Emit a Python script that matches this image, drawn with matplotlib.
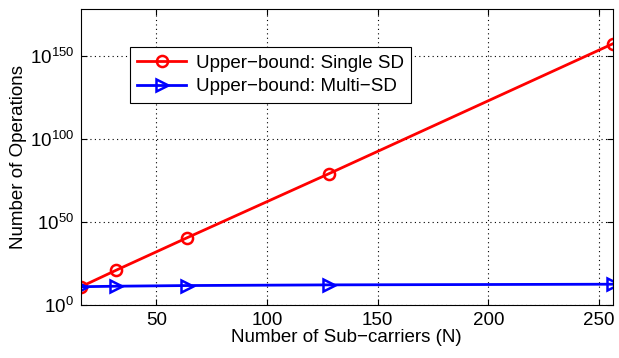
import matplotlib.pyplot as plt
import numpy as np

plt.rcParams['font.family'] = ['Liberation Sans', 'DejaVu Sans']
plt.rcParams['mathtext.fontset'] = 'custom'
plt.rcParams['mathtext.rm'] = 'Liberation Sans'
plt.rcParams['mathtext.it'] = 'Liberation Sans'

# data (exponents)
n_sub = [16, 32, 64, 128, 256]
single_sd_exp = [11, 21, 40.5, 79, 157]
multi_sd_exp = [11, 11.3, 11.7, 12.1, 12.5]

single_sd = [10.0 ** e for e in single_sd_exp]
multi_sd = [10.0 ** e for e in multi_sd_exp]

fig = plt.figure(figsize=(6.19, 3.58), dpi=100)
ax = fig.add_axes([81 / 619, 1 - 305 / 358, (612.5 - 81) / 619, (305 - 9) / 358])

ax.semilogy(n_sub, single_sd, color='red', lw=2, marker='o', ms=8, mfc='none',
            mew=1.8, label='Upper\u2212bound: Single SD')
ax.semilogy(n_sub, multi_sd, color='blue', lw=2, marker='>', ms=9, mfc='none',
            mew=1.8, label='Upper\u2212bound: Multi\u2212SD')

ax.set_xlim(16, 256)
ax.set_ylim(1, 1e178)
ax.set_xticks([50, 100, 150, 200, 250])
ax.set_yticks([1e0, 1e50, 1e100, 1e150])
ax.set_yticklabels([r'$10^{0}$', r'$10^{50}$', r'$10^{100}$', r'$10^{150}$'])
ax.minorticks_off()
ax.tick_params(direction='in', labelsize=13.5, top=True, right=True, length=4, pad=5)
ax.grid(True, ls=(0, (1, 3)), color='black', lw=0.8)
for s in ax.spines.values():
    s.set_linewidth(0.8)

ax.set_xlabel('Number of Sub\u2212carriers (N)', fontsize=13.5, labelpad=0)
ax.set_ylabel('Number of Operations', fontsize=13.5, labelpad=2)

leg = ax.legend(loc='upper left', bbox_to_anchor=(0.092, 0.872), fontsize=13.5,
                fancybox=False, edgecolor='black', framealpha=1,
                handlelength=2.6, borderpad=0.4, labelspacing=0.35,
                handletextpad=0.5, borderaxespad=0)
leg.get_frame().set_linewidth(0.8)

plt.savefig('out.png')
